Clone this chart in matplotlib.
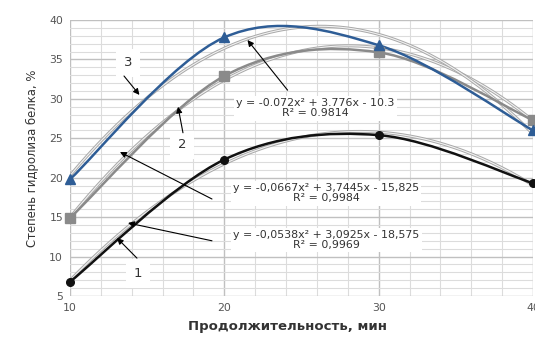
import matplotlib
matplotlib.use("Agg")
import matplotlib.pyplot as plt
import numpy as np
from matplotlib.path import Path
from matplotlib.patches import PathPatch

plt.rcParams["font.family"] = ["DejaVu Sans"]

# data
minutes = [10, 20, 30, 40]
s1 = [6.8, 22.3, 25.4, 19.3]     # curve 1, black circles
s2 = [14.9, 32.9, 35.9, 27.3]    # curve 2, gray squares
s3 = [19.8, 37.8, 36.8, 26.0]    # curve 3, blue triangles

# trend line coefficients (a, b, c) as printed on the chart
trend1 = (-0.0538, 3.0925, -18.575)
trend2 = (-0.0667, 3.7445, -15.825)
trend3 = (-0.072, 3.776, -10.3)
eq1 = "y = -0,0538x² + 3,0925x - 18,575\nR² = 0,9969"
eq2 = "y = -0,0667x² + 3,7445x - 15,825\nR² = 0,9984"
eq3 = "y = -0.072x² + 3.776x - 10.3\nR² = 0.9814"

BLUE = "#2e5d96"
GRAY = "#8a8a8a"
BLACK = "#111111"


def smooth_path(xs, ys):
    """Excel-like smoothed line: cubic Bezier segments through the points."""
    p = np.column_stack([xs, ys]).astype(float)
    n = len(p)
    verts = [p[0]]
    codes = [Path.MOVETO]
    for i in range(n - 1):
        prev = p[i - 1] if i > 0 else p[i]
        nxt = p[i + 2] if i + 2 < n else p[i + 1]
        c1 = p[i] + (p[i + 1] - prev) / 6
        c2 = p[i + 1] - (nxt - p[i]) / 6
        verts += [c1, c2, p[i + 1]]
        codes += [Path.CURVE4] * 3
    return Path(verts, codes)


fig = plt.figure(figsize=(5.35, 3.41), dpi=100)
ax = fig.add_axes([0.1308, 0.132, 0.8655, 0.8093])

ax.set_xlim(10, 40)
ax.set_ylim(5, 40)
ax.set_xticks([10, 20, 30, 40])
ax.set_yticks(np.arange(5, 41, 5))
ax.set_xticks(np.arange(10, 41, 2), minor=True)
ax.set_yticks(np.arange(5, 41, 1), minor=True)
ax.grid(which="major", color="#c0c0c0", lw=1.0)
ax.grid(which="minor", color="#dcdcdc", lw=0.8)
ax.set_axisbelow(True)
for sp in ax.spines.values():
    sp.set_visible(False)
ax.tick_params(which="both", length=0, labelsize=7.8, labelcolor="#555555", pad=5)

# trend lines
xx = np.linspace(10, 40, 200)
for a, b, c in (trend1, trend2, trend3):
    yy = a * xx ** 2 + b * xx + c
    ax.plot(xx, yy, color="#a8a8a8", lw=2.2, zorder=2)
    ax.plot(xx, yy, color="#f2f2f2", lw=0.8, zorder=2)

# smoothed data lines with markers
for ys, col, mk, ms in ((s2, GRAY, "s", 6.5), (s1, BLACK, "o", 5.5), (s3, BLUE, "^", 6.5)):
    ax.add_patch(PathPatch(smooth_path(minutes, ys), facecolor="none",
                           edgecolor=col, lw=1.8, zorder=3))
    ax.plot(minutes, ys, ls="none", marker=mk, ms=ms, color=col, zorder=4, clip_on=False)

arrow = dict(arrowstyle="-|>", color="black", lw=0.8, mutation_scale=9, shrinkA=0, shrinkB=0)
box = dict(boxstyle="square,pad=0.2", facecolor="white", edgecolor="none")

# curve numbers
for lbl, pos, tail, head in (("3", (13.76, 34.55), (13.5, 32.9), (14.5, 30.5)),
                             ("2", (17.26, 24.15), (17.32, 25.7), (17.0, 29.0)),
                             ("1", (14.4, 7.9), (14.34, 9.8), (13.05, 12.35))):
    ax.annotate("", xy=head, xytext=tail, arrowprops=arrow, zorder=6)
    ax.text(*pos, lbl, fontsize=9.5, color="#333333", ha="center", va="center",
            bbox=dict(boxstyle="square,pad=0.6", facecolor="white", edgecolor="none"), zorder=5)

# equations
for txt, pos, tail, head in ((eq3, (25.9, 28.8), (24.1, 31.1), (21.5, 37.46)),
                             (eq2, (26.6, 18.0), (19.2, 17.3), (13.24, 23.26)),
                             (eq1, (26.6, 12.1), (19.2, 12.0), (13.76, 14.26))):
    ax.annotate("", xy=head, xytext=tail, arrowprops=arrow, zorder=6)
    ax.text(*pos, txt, fontsize=7.9, color="#333333", ha="center", va="center",
            linespacing=1.0, bbox=box, zorder=5)

ax.set_xlabel("Продолжительность, мин", fontsize=9.5, fontweight="bold", color="#333333")
ax.xaxis.set_label_coords(0.47, -0.088)
ax.set_ylabel("Степень гидролиза белка, %", fontsize=8.4, color="#333333", labelpad=7)

fig.savefig("out.png", dpi=100)
